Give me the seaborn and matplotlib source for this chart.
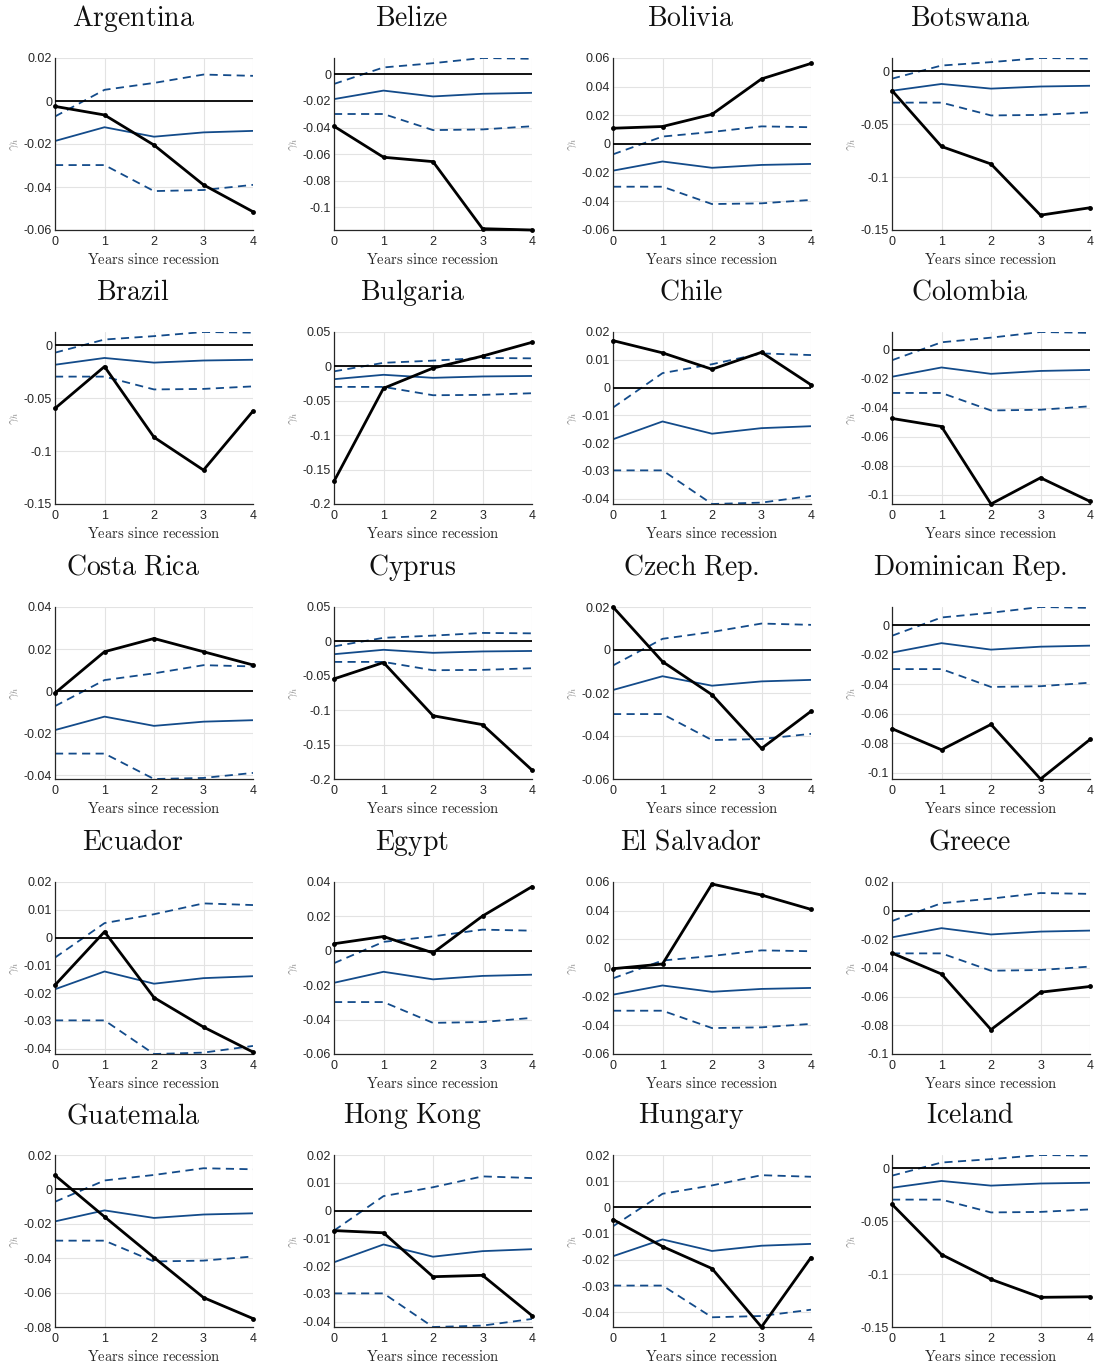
import numpy as np
import pandas as pd
import matplotlib
matplotlib.use("Agg")
import matplotlib.pyplot as plt
import seaborn as sns

years = [0, 1, 2, 3, 4]

# common benchmark: median and bands
median = [-0.0186, -0.0122, -0.0166, -0.0146, -0.0139]
upper = [-0.0072, 0.0052, 0.0084, 0.0123, 0.0117]
lower = [-0.0298, -0.0298, -0.0419, -0.0414, -0.0390]

countries = ["Argentina", "Belize", "Bolivia", "Botswana",
             "Brazil", "Bulgaria", "Chile", "Colombia",
             "Costa Rica", "Cyprus", "Czech Rep.", "Dominican Rep.",
             "Ecuador", "Egypt", "El Salvador", "Greece",
             "Guatemala", "Hong Kong", "Hungary", "Iceland"]

country_vals = [
    [-0.0025, -0.0065, -0.0205, -0.0390, -0.0515],
    [-0.0390, -0.0623, -0.0656, -0.1160, -0.1170],
    [0.0110, 0.0122, 0.0207, 0.0454, 0.0562],
    [-0.0184, -0.0712, -0.0877, -0.1360, -0.1290],
    [-0.0598, -0.0203, -0.0870, -0.1180, -0.0623],
    [-0.1670, -0.0318, -0.0025, 0.0150, 0.0350],
    [0.0169, 0.0125, 0.0066, 0.0127, 0.0010],
    [-0.0474, -0.0530, -0.1065, -0.0884, -0.1047],
    [-0.0010, 0.0187, 0.0250, 0.0187, 0.0124],
    [-0.0545, -0.0307, -0.1080, -0.1210, -0.1870],
    [0.0200, -0.0054, -0.0208, -0.0458, -0.0285],
    [-0.0702, -0.0845, -0.0673, -0.1043, -0.0775],
    [-0.0171, 0.0021, -0.0216, -0.0322, -0.0412],
    [0.0041, 0.0083, -0.0012, 0.0202, 0.0373],
    [-0.0005, 0.0028, 0.0586, 0.0509, 0.0409],
    [-0.0296, -0.0442, -0.0830, -0.0569, -0.0529],
    [0.0082, -0.0159, -0.0396, -0.0629, -0.0751],
    [-0.0072, -0.0080, -0.0238, -0.0233, -0.0378],
    [-0.0046, -0.0149, -0.0233, -0.0456, -0.0191],
    [-0.0342, -0.0816, -0.1050, -0.1220, -0.1215],
]

y_limits = [
    (-0.06, 0.02), (-0.117, 0.0123), (-0.06, 0.06), (-0.15, 0.0123),
    (-0.15, 0.0123), (-0.2, 0.05), (-0.0419, 0.02), (-0.1065, 0.0123),
    (-0.0419, 0.04), (-0.2, 0.05), (-0.06, 0.02), (-0.1043, 0.0123),
    (-0.0419, 0.02), (-0.06, 0.04), (-0.06, 0.06), (-0.1, 0.02),
    (-0.08, 0.02), (-0.0419, 0.02), (-0.0456, 0.02), (-0.15, 0.0123),
]

y_steps = [0.02, 0.02, 0.02, 0.05, 0.05, 0.05, 0.01, 0.02, 0.02, 0.05,
           0.02, 0.02, 0.01, 0.02, 0.02, 0.02, 0.02, 0.01, 0.01, 0.05]

sns.set_theme(style="whitegrid")
plt.rcParams["font.family"] = ["Liberation Sans", "DejaVu Sans"]
plt.rcParams["mathtext.fontset"] = "cm"

W, H = 1094, 1363
fig = plt.figure(figsize=(W / 100, H / 100), dpi=100)

col_left = [55, 334, 613, 892]
row_top = [58, 332, 607, 882, 1155]
aw, ah = 198, 172

blue = "#134b8a"
bench = pd.DataFrame({"h": years, "median": median, "upper": upper, "lower": lower})

def fmt(v):
    if abs(v) < 1e-9:
        return "0"
    return f"{v:.2f}".rstrip("0").rstrip(".")

for i, name in enumerate(countries):
    r, c = divmod(i, 4)
    ax = fig.add_axes([col_left[c] / W, 1 - (row_top[r] + ah) / H, aw / W, ah / H])
    ax.set_facecolor("white")
    lo, hi = y_limits[i]

    ax.axhline(0, color="black", lw=1.3, zorder=3)
    sns.lineplot(data=bench, x="h", y="median", ax=ax, color=blue, lw=1.3, zorder=2)
    sns.lineplot(data=bench, x="h", y="upper", ax=ax, color=blue, lw=1.3,
                 linestyle=(0, (4.5, 3)), zorder=2)
    sns.lineplot(data=bench, x="h", y="lower", ax=ax, color=blue, lw=1.3,
                 linestyle=(0, (4.5, 3)), zorder=2)
    cdf = pd.DataFrame({"h": years, "v": country_vals[i]})
    sns.lineplot(data=cdf, x="h", y="v", ax=ax, color="black", lw=2.0,
                 marker="o", markersize=3.5, markeredgewidth=0, zorder=4,
                 clip_on=False)

    ax.set_xlim(0, 4)
    ax.set_ylim(lo, hi)
    step = y_steps[i]
    ticks = np.arange(np.ceil(lo / step - 1e-6) * step, hi + 1e-9, step)
    ax.set_yticks(ticks)
    ax.set_yticklabels([fmt(t) for t in ticks])
    ax.set_xticks(years)

    ax.grid(True, color="#e3e3e3", lw=0.8)
    for s in ["top", "right"]:
        ax.spines[s].set_visible(False)
    for s in ["left", "bottom"]:
        ax.spines[s].set_color("#262626")
        ax.spines[s].set_linewidth(0.9)
    ax.tick_params(axis="both", direction="in", length=2.5, width=0.7,
                   labelsize=9, colors="#262626")
    ax.tick_params(axis="y", pad=2)
    ax.tick_params(axis="x", pad=4)

    ax.set_xlabel(r"$\mathrm{Years\ since\ recession}$", fontsize=10.5,
                  color="#262626", labelpad=3)
    ax.set_ylabel(r"$\gamma_h$", fontsize=9, color="#8a8a8a", labelpad=2)
    title = r"$\mathrm{" + name.replace(" ", r"\ ") + "}$"
    ax.text(0.5 - 21 / aw, 1 + 39 / ah, title, transform=ax.transAxes,
            ha="center", va="center", fontsize=20, color="#111111")

fig.savefig("out.png", dpi=100)
